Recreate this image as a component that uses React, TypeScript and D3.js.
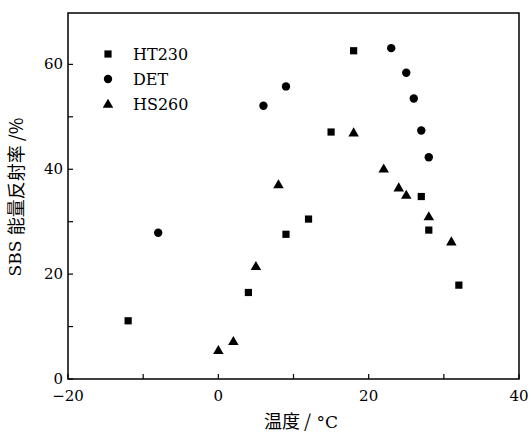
import React from "react";
import * as d3 from "d3";

// HT230 (squares)
const ht230X = [-12, 4, 9, 12, 15, 18, 27, 28, 32];
const ht230Y = [11.1, 16.5, 27.6, 30.5, 47.1, 62.6, 34.8, 28.4, 17.9];
// DET (circles)
const detX = [-8, 6, 9, 23, 25, 26, 27, 28];
const detY = [27.9, 52.1, 55.8, 63.1, 58.4, 53.5, 47.4, 42.3];
// HS260 (triangles)
const hsX = [0, 2, 5, 8, 18, 22, 24, 25, 28, 31];
const hsY = [5.5, 7.2, 21.5, 37.1, 47, 40.1, 36.5, 35.1, 31, 26.2];

const legendNames = ["HT230", "DET", "HS260"];
const xTicks = [-20, -10, 0, 10, 20, 30, 40];
const yTicks = [0, 10, 20, 30, 40, 50, 60];
const xLabels = [-20, 0, 20, 40];
const yLabels = [0, 20, 40, 60];

const W = 531;
const H = 432;
const margin = { left: 68, right: 12, top: 13, bottom: 53 };

const serif = "'DejaVu Serif', serif";
const cjk = "'Noto Sans CJK SC', sans-serif";

const Marker = ({ type, x, y }: { type: number; x: number; y: number }) => {
  if (type === 0) return <rect x={x - 3.6} y={y - 3.6} width={7.2} height={7.2} fill="#000" />;
  if (type === 1) return <circle cx={x} cy={y} r={4.2} fill="#000" />;
  const tri = d3.symbol().type(d3.symbolTriangle).size(48)();
  return <path d={tri as string} transform={`translate(${x},${y + 0.8})`} fill="#000" />;
};

const App = () => {
  const x = d3.scaleLinear().domain([-20, 40]).range([margin.left, W - margin.right]);
  const y = d3.scaleLinear().domain([0, 69.8]).range([H - margin.bottom, margin.top]);
  const fmt = (v: number) => (v < 0 ? "\u2212" + Math.abs(v) : String(v));

  const series = [
    { xs: ht230X, ys: ht230Y },
    { xs: detX, ys: detY },
    { xs: hsX, ys: hsY },
  ];

  const x0 = margin.left;
  const x1 = W - margin.right;
  const y0 = H - margin.bottom;
  const y1 = margin.top;

  return (
    <svg width={W} height={H} style={{ position: "absolute", left: 0, top: 0, background: "#fff" }}>
      {/* ticks */}
      {xTicks.map((t) => (
        <line key={"xt" + t} x1={x(t)} x2={x(t)} y1={y0} y2={y0 - 5} stroke="#000" strokeWidth={1.2} />
      ))}
      {yTicks.map((t) => (
        <line key={"yt" + t} x1={x0} x2={x0 + 5} y1={y(t)} y2={y(t)} stroke="#000" strokeWidth={1.2} />
      ))}
      <rect x={x0} y={y1} width={x1 - x0} height={y0 - y1} fill="none" stroke="#000" strokeWidth={1.5} />

      {xLabels.map((t) => (
        <text key={"xl" + t} x={x(t)} y={y0 + 22} textAnchor="middle" fontFamily={serif} fontSize={15}>
          {fmt(t)}
        </text>
      ))}
      {yLabels.map((t) => (
        <text key={"yl" + t} x={x0 - 5} y={y(t) + 5} textAnchor="end" fontFamily={serif} fontSize={15}>
          {fmt(t)}
        </text>
      ))}

      {/* data */}
      {series.map((s, i) =>
        s.xs.map((v, j) => <Marker key={i + "-" + j} type={i} x={x(v)} y={y(s.ys[j])} />)
      )}

      {/* legend */}
      {legendNames.map((name, i) => (
        <g key={name}>
          <Marker type={i} x={108} y={54 + i * 25} />
          <text x={133} y={60 + i * 25} fontFamily={serif} fontSize={16}>
            {name}
          </text>
        </g>
      ))}

      {/* axis titles */}
      <text x={301} y={428} textAnchor="middle" fontFamily={cjk} fontSize={18}>
        温度 /<tspan fontFamily={serif} fontSize={17}> °C</tspan>
      </text>
      <text
        transform={`translate(15,${197}) rotate(-90)`}
        textAnchor="middle"
        dominantBaseline="central"
        fontFamily={cjk}
        fontSize={18}
      >
        <tspan fontFamily={serif} fontSize={17}>SBS </tspan>能量反射率 /%
      </text>
    </svg>
  );
};

export default App;
